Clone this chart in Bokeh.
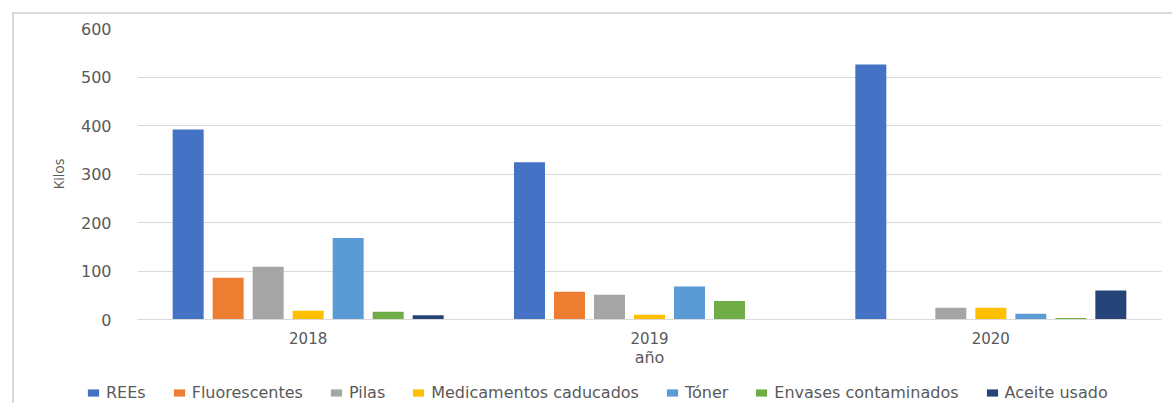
from bokeh.plotting import figure
from bokeh.models import (FactorRange, Range1d, Legend, LegendItem, FixedTicker,
                          ColumnDataSource)
from bokeh.transform import dodge
from bokeh.embed import file_html
from bokeh.resources import INLINE

# ---- data ----
years = ["2018", "2019", "2020"]
series = ["REEs", "Fluorescentes", "Pilas", "Medicamentos caducados",
          "Tóner", "Envases contaminados", "Aceite usado"]
colors = ["#4472C4", "#ED7D31", "#A5A5A5", "#FFC000",
          "#5B9BD5", "#70AD47", "#264478"]
rees = [392, 324, 526]
fluorescentes = [86, 57, 0]
pilas = [109, 51, 24]
medicamentos = [18, 10, 24]
toner = [168, 68, 12]
envases = [16, 38, 3]
aceite = [9, 0, 60]
y_ticks = [0, 100, 200, 300, 400, 500, 600]

values = [rees, fluorescentes, pilas, medicamentos, toner, envases, aceite]
keys = ["s%d" % i for i in range(len(series))]
data = {"year": years}
for k, v in zip(keys, values):
    data[k] = v
source = ColumnDataSource(data)

TEXT = "#595959"
GRID = "#d9d9d9"
W = 1160
pitch = 0.1172
bar_w = 0.0908

# ---- main chart ----
xr = FactorRange(*years, range_padding=0)
p = figure(x_range=xr, y_range=Range1d(0, 600),
           width=W, height=359,
           output_backend="svg", toolbar_location=None,
           min_border_left=123, min_border_right=W - 1147,
           min_border_top=14, min_border_bottom=54,
           margin=(12, 0, 0, 12),
           styles={"border-top": "2px solid #d9d9d9",
                   "border-left": "2px solid #d9d9d9"})
p.outline_line_color = None
p.background_fill_color = "white"
p.border_fill_color = "white"

for i, (k, c) in enumerate(zip(keys, colors)):
    p.vbar(x=dodge("year", (i - 3) * pitch, range=xr), top=k,
           width=bar_w, source=source, fill_color=c, line_color=None)

p.xgrid.grid_line_color = None
p.ygrid.grid_line_color = GRID
p.ygrid.grid_line_width = 1
p.yaxis.ticker = FixedTicker(ticks=y_ticks)

p.yaxis.axis_line_color = None
p.yaxis.major_tick_line_color = None
p.yaxis.minor_tick_line_color = None
p.yaxis.major_label_standoff = 20
p.yaxis.major_label_text_font = "DejaVu Sans"
p.yaxis.major_label_text_font_size = "16px"
p.yaxis.major_label_text_color = TEXT
p.yaxis.axis_label = "Kilos"
p.yaxis.axis_label_text_font = "Open Sans"
p.yaxis.axis_label_text_font_size = "14px"
p.yaxis.axis_label_text_font_style = "normal"
p.yaxis.axis_label_text_color = TEXT
p.yaxis.axis_label_standoff = 10

p.xaxis.axis_line_color = GRID
p.xaxis.axis_line_width = 1
p.xaxis.major_tick_line_color = None
p.xaxis.minor_tick_line_color = None
p.xaxis.major_label_standoff = 6
p.xaxis.major_label_text_font = "DejaVu Sans"
p.xaxis.major_label_text_font_size = "15px"
p.xaxis.major_label_text_color = TEXT
p.xaxis.axis_label = "año"
p.xaxis.axis_label_text_font = "DejaVu Sans"
p.xaxis.axis_label_text_font_size = "16px"
p.xaxis.axis_label_text_font_style = "normal"
p.xaxis.axis_label_text_color = TEXT
p.xaxis.axis_label_standoff = 1

# ---- legend strip (same series, zero-width bars kept out of view) ----
lg = figure(x_range=xr, y_range=Range1d(-2, -1),
            width=W, height=32, output_backend="svg", toolbar_location=None,
            x_axis_type=None, y_axis_type=None,
            min_border_left=0, min_border_right=0,
            min_border_top=0, min_border_bottom=0,
            margin=(0, 0, 0, 12),
            styles={"border-left": "2px solid #d9d9d9"})
lg.outline_line_color = None
lg.xgrid.visible = False
lg.ygrid.visible = False
items = []
for i, (k, name, c) in enumerate(zip(keys, series, colors)):
    r = lg.vbar(x=dodge("year", (i - 3) * pitch, range=xr), top=k,
                width=0, source=source, fill_color=c, line_color=None)
    items.append(LegendItem(label=name, renderers=[r]))

legend = Legend(items=items, orientation="horizontal", location=(72, 1),
                glyph_width=14, glyph_height=9, label_standoff=6, spacing=26,
                padding=0, margin=0, label_height=20,
                border_line_color=None, background_fill_alpha=0,
                label_text_font="DejaVu Sans", label_text_font_size="16px",
                label_text_color=TEXT)
lg.add_layout(legend)

open("out.html", "w").write(file_html([p, lg], INLINE))
